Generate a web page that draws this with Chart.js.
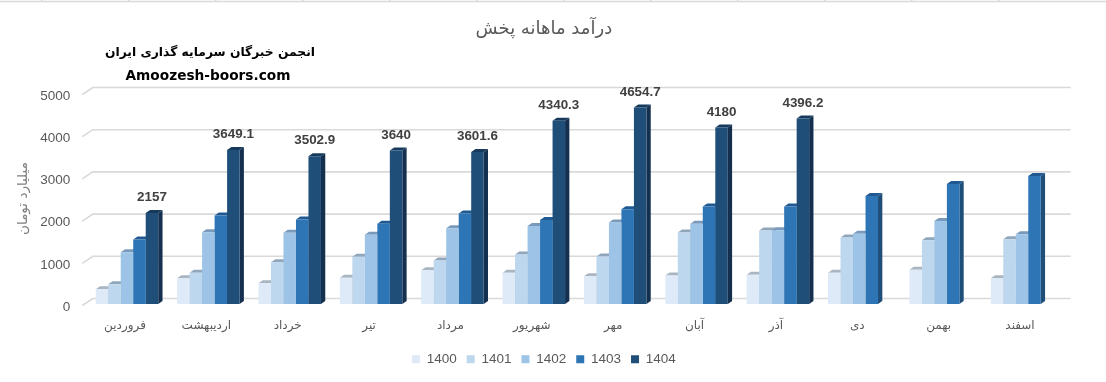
<!DOCTYPE html>
<html><head><meta charset="utf-8">
<style>html,body{margin:0;padding:0;background:#fff}canvas{display:block}</style>
<script src="https://cdn.jsdelivr.net/npm/chart.js@4"></script></head>
<body><canvas id="c" width="1106" height="382"></canvas>
<script>
const categories=['فروردین','اردیبهشت','خرداد','تیر','مرداد','شهریور','مهر','آبان','آذر','دی','بهمن','اسفند'];
const s1400=[350,610,490,622,797,740,655,678,693,740,811,608];
const s1401=[470,740,990,1118,1033,1175,1128,1695,1742,1577,1513,1534];
const s1402=[1225,1700,1690,1639,1797,1851,1931,1899,1750,1663,1969,1655];
const s1403=[1530,2100,2000,1899,2143,1993,2246,2310,2310,2560,2844,3033];
const s1404=[2157,3649.1,3502.9,3640,3601.6,4340.3,4654.7,4180,4396.2,null,null,null];
const seriesNames=['1400','1401','1402','1403','1404'];
const frontColors=['#deeaf8','#bdd7ee','#9dc3e6','#2e75b6','#1f4e79'];
const topColors=['#a9b5c1','#8fa6bb','#7a9abb','#215a92','#173a5c'];
const sideColors=['#a6afb9','#8da2b5','#7593ae','#1f4e79','#14304e'];
const titleText='درآمد ماهانه پخش';
const axisTitle='میلیارد تومان';
const noteLine1='انجمن خبرگان سرمایه گذاری ایران';
const noteLine2='Amoozesh-boors.com';
const cellTicks=[41.7,128.7,215.7,302.7,389.7,476.7,563.7,650.7,737.7,824.7,911.7,998.7];
const depthX=4.3,depthY=3;

const frame={id:'frame',
 beforeDatasetsDraw(chart){
  const {ctx,scales:{y},chartArea:a}=chart;
  ctx.save();
  ctx.strokeStyle='#d9d9d9';ctx.lineWidth=1.6;
  ctx.beginPath();ctx.moveTo(0,1.5);ctx.lineTo(1106,1.5);
  cellTicks.forEach(x=>{ctx.moveTo(x,0);ctx.lineTo(x,1.5)});ctx.stroke();
  y.ticks.forEach(t=>{
   const py=y.getPixelForValue(t.value);
   ctx.beginPath();ctx.moveTo(a.left-4,py+1.5);ctx.lineTo(a.left+6.5,py-5.5);ctx.lineTo(a.right+8,py-5.5);ctx.stroke();
  });
  chart.data.datasets.forEach((d,i)=>{
   chart.getDatasetMeta(i).data.forEach((b,j)=>{
    if(d.data[j]==null)return;
    const w=b.width,l=b.x-w/2,r=b.x+w/2,t=b.y,bt=b.base;
    ctx.fillStyle=sideColors[i];
    ctx.beginPath();ctx.moveTo(r,t);ctx.lineTo(r+depthX,t-depthY);ctx.lineTo(r+depthX,bt-depthY);ctx.lineTo(r,bt);ctx.fill();
    ctx.fillStyle=topColors[i];
    ctx.beginPath();ctx.moveTo(l,t);ctx.lineTo(l+depthX,t-depthY);ctx.lineTo(r+depthX,t-depthY);ctx.lineTo(r,t);ctx.fill();
   });
  });
  ctx.restore();
 },
 afterDatasetsDraw(chart){
  const {ctx}=chart;
  ctx.save();
  ctx.textAlign='center';ctx.textBaseline='middle';
  ctx.fillStyle='#404040';ctx.font='bold 13.4px "Liberation Sans"';
  const last=chart.data.datasets.length-1;
  chart.getDatasetMeta(last).data.forEach((b,j)=>{
   const v=chart.data.datasets[last].data[j];
   if(v!=null)ctx.fillText(String(v),b.x,b.y-15.5);
  });
  ctx.fillStyle='#000';
  ctx.font='bold 12.3px "DejaVu Sans"';ctx.fillText(noteLine1,210,53);
  ctx.font='bold 13.7px "DejaVu Sans"';ctx.fillText(noteLine2,208,76);
  ctx.restore();
 }};

new Chart(document.getElementById('c'),{
 type:'bar',
 data:{labels:categories,datasets:[s1400,s1401,s1402,s1403,s1404].map((v,i)=>({
  label:seriesNames[i],data:v,backgroundColor:frontColors[i],borderWidth:0,
  categoryPercentage:0.768,barPercentage:1}))},
 plugins:[frame],
 options:{responsive:false,animation:false,
  layout:{padding:{left:25,right:43.3,top:0,bottom:6}},
  scales:{
   x:{grid:{display:false,drawTicks:false},border:{display:false},
      ticks:{color:'#595959',font:{family:'"DejaVu Sans"',size:12},padding:14.5,labelOffset:-2,maxRotation:0,autoSkip:false},
      afterFit(s){s.height=38.5}},
   y:{min:0,max:5000,grid:{display:false,drawTicks:false},border:{display:false},
      ticks:{stepSize:1000,color:'#595959',font:{family:'"Liberation Sans"',size:13.5},padding:16,labelOffset:3,callback:v=>String(v)},
      title:{display:true,text:axisTitle,color:'#7f7f7f',font:{family:'"DejaVu Sans"',size:13.5},padding:{top:-10,bottom:0}},
      afterFit(s){s.width=61.3}}
  },
  plugins:{
   title:{display:true,text:titleText,color:'#595959',font:{family:'"DejaVu Sans"',size:18,weight:'normal'},padding:{top:19,bottom:52.4}},
   legend:{position:'bottom',labels:{boxWidth:8,boxHeight:8,padding:10,color:'#595959',font:{family:'"Liberation Sans"',size:13.5}}},
   tooltip:{enabled:false}
  }
 }
});
</script></body></html>
